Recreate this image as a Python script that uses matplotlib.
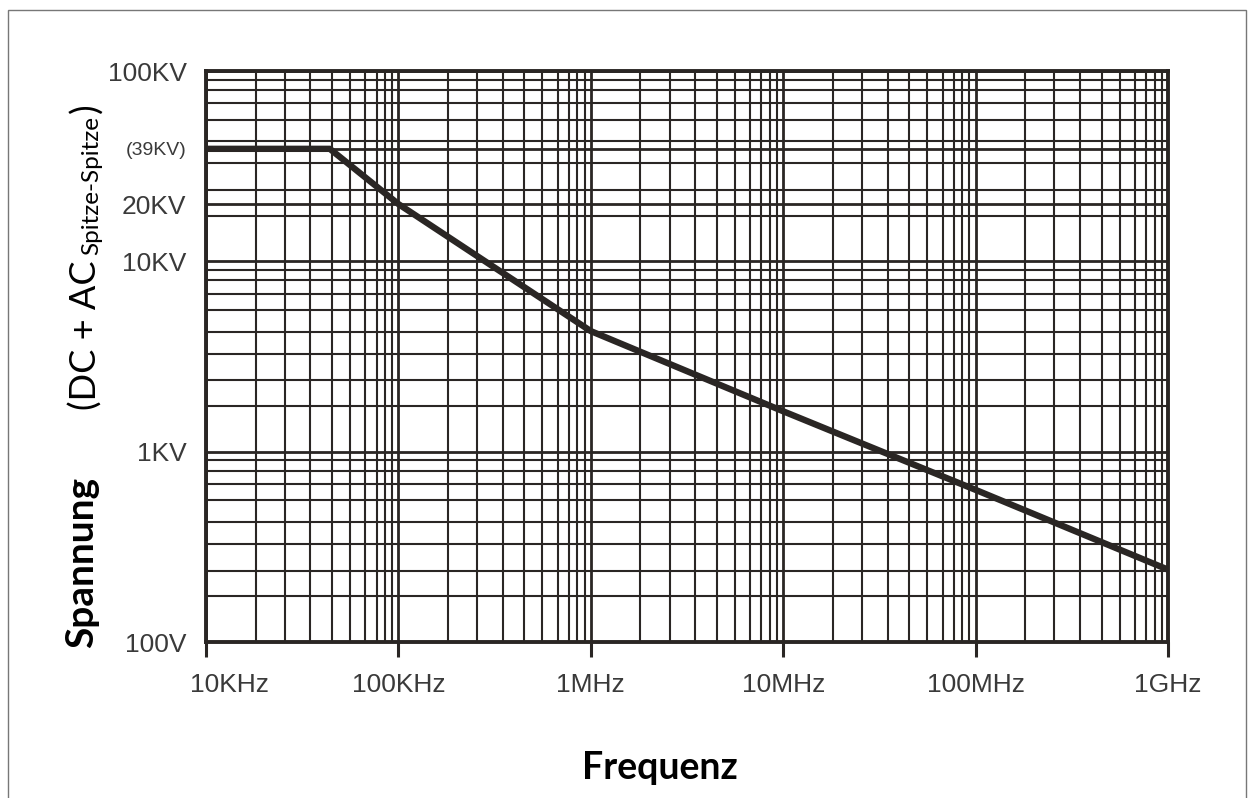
import numpy as np
import matplotlib
matplotlib.use('Agg')
import matplotlib.pyplot as plt
import matplotlib.transforms as mtransforms
from matplotlib.patches import Rectangle
from matplotlib.ticker import FixedLocator, NullFormatter

# curve data (frequency in Hz, voltage in V)
freq = [1e4, 4.4e4, 1e5, 1e6, 1e7, 1e8, 1e9]
volt = [39e3, 39e3, 20e3, 4.3e3, 1.63e3, 630, 240]

# axis labels
x_ticks = [1e4, 1e5, 1e6, 1e7, 1e8, 1e9]
x_labels = ['10KHz', '100KHz', '1MHz', '10MHz', '100MHz', '1GHz']
y_ticks = [1e2, 1e3, 1e4, 2e4, 1e5]
y_labels = ['100V', '1KV', '10KV', '20KV', '100KV']
y_extra_tick = 3.9e4
y_extra_label = '(39KV)'

# grid sub-divisions as drawn on the original graph paper
x_sub = [1.81, 2.57, 3.49, 4.52, 5.6, 6.73, 7.71, 8.51, 9.29]
y_sub = [1.74, 2.37, 3.27, 4.27, 5.56, 6.76, 7.94, 9.02]

ink = '#2a2624'
tick_font = ['Liberation Sans Narrow', 'Liberation Sans', 'DejaVu Sans']
title_font = ['Lato', 'Open Sans', 'DejaVu Sans']

fig = plt.figure(figsize=(12.48, 7.98), dpi=100)
W, H = 1248, 798
ax = fig.add_axes([206 / W, 1 - 642 / H, (1168 - 206) / W, (642 - 71) / H])

ax.set_xscale('log')
ax.set_yscale('log')
ax.set_xlim(1e4, 1e9)
ax.set_ylim(1e2, 1e5)

# minor grid positions
x_minor = [d * m for d in x_ticks[:-1] for m in x_sub]
y_minor = [d * m for d in [1e2, 1e3, 1e4] for m in y_sub]
ax.xaxis.set_minor_locator(FixedLocator(x_minor))
ax.yaxis.set_minor_locator(FixedLocator(y_minor))
ax.xaxis.set_minor_formatter(NullFormatter())
ax.yaxis.set_minor_formatter(NullFormatter())

ax.grid(which='minor', color=ink, lw=1.5)
ax.grid(which='major', color=ink, lw=2.0)
ax.set_axisbelow(True)

ax.plot(freq, volt, color=ink, lw=4.6, solid_capstyle='butt', zorder=3)

for s in ax.spines.values():
    s.set_color(ink)
    s.set_linewidth(2.8)

ax.set_xticks(x_ticks)
ax.set_xticklabels(x_labels)
ax.tick_params(axis='x', which='major', length=11, width=2.2, color=ink,
               pad=11, labelsize=19, labelcolor='#3a3a3a')
ax.tick_params(axis='x', which='minor', length=0)
for t in ax.get_xticklabels():
    t.set_family(tick_font)
# first label sits slightly right of its tick, as on the original
first = ax.get_xticklabels()[0]
first.set_transform(first.get_transform() +
                    mtransforms.ScaledTranslation(24 / 100, 0, fig.dpi_scale_trans))

ax.set_yticks(y_ticks + [y_extra_tick])
ax.set_yticklabels(y_labels + [y_extra_label])
ax.tick_params(axis='y', which='both', length=0, pad=14, labelsize=19,
               labelcolor='#3a3a3a')
for t in ax.get_yticklabels():
    t.set_family(tick_font)
    if t.get_text() == y_extra_label:
        t.set_fontsize(14)

# axis titles
fig.text(660 / W, 1 - 768 / H, 'Frequenz', ha='center', va='center',
         fontsize=27, fontweight='bold', family=title_font)
fig.text(82 / W, 1 - 562 / H, 'Spannung', ha='center', va='center',
         rotation=90, fontsize=28, fontweight='bold', family=title_font)
fig.text(97 / W, 1 - 410 / H, '(DC + AC', ha='left', va='baseline',
         rotation=90, rotation_mode='anchor', fontsize=26, family=title_font)
fig.text(98 / W, 1 - 255 / H, 'Spitze-Spitze', ha='left', va='baseline',
         rotation=90, rotation_mode='anchor', fontsize=17.5, family=title_font)
fig.text(97 / W, 1 - 113 / H, ')', ha='left', va='baseline',
         rotation=90, rotation_mode='anchor', fontsize=26, family=title_font)

# thin frame around the picture
fig.patches.append(Rectangle((8 / W, -0.05), (1246 - 8) / W, 1.05 - 10 / H,
                             transform=fig.transFigure, fill=False,
                             edgecolor='#777777', lw=1.0))

fig.savefig('out.png', dpi=100)
